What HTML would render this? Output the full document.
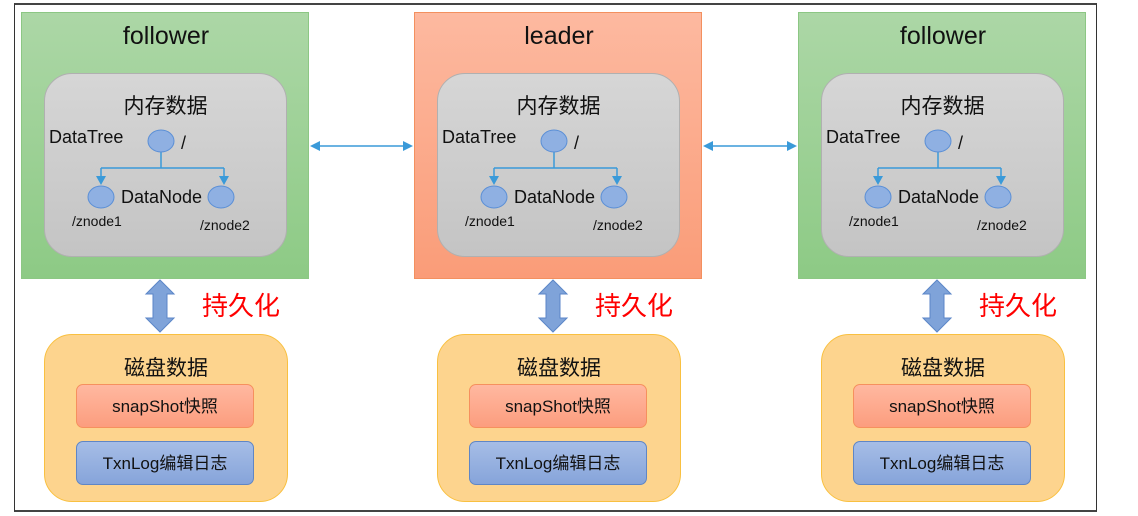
<!DOCTYPE html>
<html><head><meta charset="utf-8"><style>
body{margin:0;width:1138px;height:516px;background:#fff;position:relative;overflow:hidden;font-family:"Liberation Sans","Noto Sans CJK SC",sans-serif;}
.a{position:absolute}
.col{position:absolute;top:0;width:300px;height:516px}
.panel{position:absolute;left:0;top:12px;width:288px;height:267px;box-sizing:border-box}
.g{background:linear-gradient(#acd7a6,#8dca85);border:1px solid #8cc784}
.o{background:linear-gradient(#fdb9a0,#fa9c78);border:1px solid #f3905f}
.title{position:absolute;left:0;width:288px;text-align:center;top:9px;font-size:25px;color:#111}
.mem{position:absolute;left:23px;top:73px;width:243px;height:184px;border-radius:28px;background:linear-gradient(#d6d6d6,#c4c4c4);border:1px solid #b0b0b0;box-sizing:border-box}
.disk{position:absolute;left:23px;top:334px;width:244px;height:168px;border-radius:28px;background:#fdd48e;border:1px solid #f9c040;box-sizing:border-box}
.btn{position:absolute;left:55px;width:178px;height:44px;border-radius:7px;box-sizing:border-box;text-align:center;line-height:44px;font-size:17px;color:#111}
</style></head><body>
<div class="a" style="left:14px;top:3px;width:1081px;height:505px;border:1px solid #333;border-top:2px solid #444;border-bottom:2px solid #444"></div>

<!-- columns -->
<div class="col" style="left:21px">
<div class="panel g"><div class="title">follower</div></div>
</div>
<div class="col" style="left:414px">
<div class="panel o"><div class="title">leader</div></div>
</div>
<div class="col" style="left:798px">
<div class="panel g"><div class="title">follower</div></div>
</div>

<svg class="a" style="left:0;top:0" width="1138" height="516">
<path d="M310,146l10,-5v10z M413,146l-10,-5v10z M703,146l10,-5v10z M797,146l-10,-5v10z" fill="#3a9ad9"/>
<line x1="318" y1="146" x2="406" y2="146" stroke="#3a9ad9" stroke-width="1.5"/>
<line x1="712" y1="146" x2="790" y2="146" stroke="#3a9ad9" stroke-width="1.5"/>
</svg>

<div class="col" style="left:21px" id="c1"></div>
<script>
var offs=[21,414,798];
var tpl=document.getElementById('c1');
var html='<div class="mem"><div style="position:absolute;left:0;width:241px;top:16px;text-align:center;font-size:21px;color:#111">内存数据</div></div>'+
'<svg class="a" style="left:0;top:0" width="300" height="340">'+
'<line x1="140" y1="152" x2="140" y2="168" stroke="#3a9ad9" stroke-width="1.5"/>'+
'<line x1="80" y1="168" x2="203" y2="168" stroke="#3a9ad9" stroke-width="1.5"/>'+
'<line x1="80" y1="168" x2="80" y2="178" stroke="#3a9ad9" stroke-width="1.5"/>'+
'<line x1="203" y1="168" x2="203" y2="178" stroke="#3a9ad9" stroke-width="1.5"/>'+
'<path d="M75,176h10l-5,9z M198,176h10l-5,9z" fill="#3a9ad9"/>'+
'<ellipse cx="140" cy="141" rx="13" ry="11" fill="#8fb0e2" stroke="#5b8fd6"/>'+
'<ellipse cx="80" cy="197" rx="13" ry="11" fill="#8fb0e2" stroke="#5b8fd6"/>'+
'<ellipse cx="200" cy="197" rx="13" ry="11" fill="#8fb0e2" stroke="#5b8fd6"/>'+
'<text x="28" y="143" font-size="18" fill="#111">DataTree</text>'+
'<text x="160" y="149" font-size="18" fill="#111">/</text>'+
'<text x="100" y="203" font-size="18" fill="#111">DataNode</text>'+
'<text x="51" y="226" font-size="14" fill="#111">/znode1</text>'+
'<text x="179" y="230" font-size="14" fill="#111">/znode2</text>'+
'<path d="M139,280l14,14h-7v24h7l-14,14l-14,-14h7v-24h-7z" fill="#7fa3d9" stroke="#5b86c8"/>'+
'<text x="181" y="315" font-size="26" fill="#f00">持久化</text>'+
'</svg>'+
'<div class="disk"><div style="position:absolute;left:0;width:242px;top:17px;text-align:center;font-size:21px;color:#111">磁盘数据</div></div>'+
'<div class="btn" style="top:384px;background:linear-gradient(#ffb8a0,#fc9d7e);border:1px solid #f6905e">snapShot快照</div>'+
'<div class="btn" style="top:441px;background:linear-gradient(#a6bde6,#86a4da);border:1px solid #5f86c6">TxnLog编辑日志</div>';
tpl.innerHTML=html;
for(var i=1;i<3;i++){var d=document.createElement('div');d.className='col';d.style.left=offs[i]+'px';d.innerHTML=html;document.body.appendChild(d);}
</script>
</body></html>
